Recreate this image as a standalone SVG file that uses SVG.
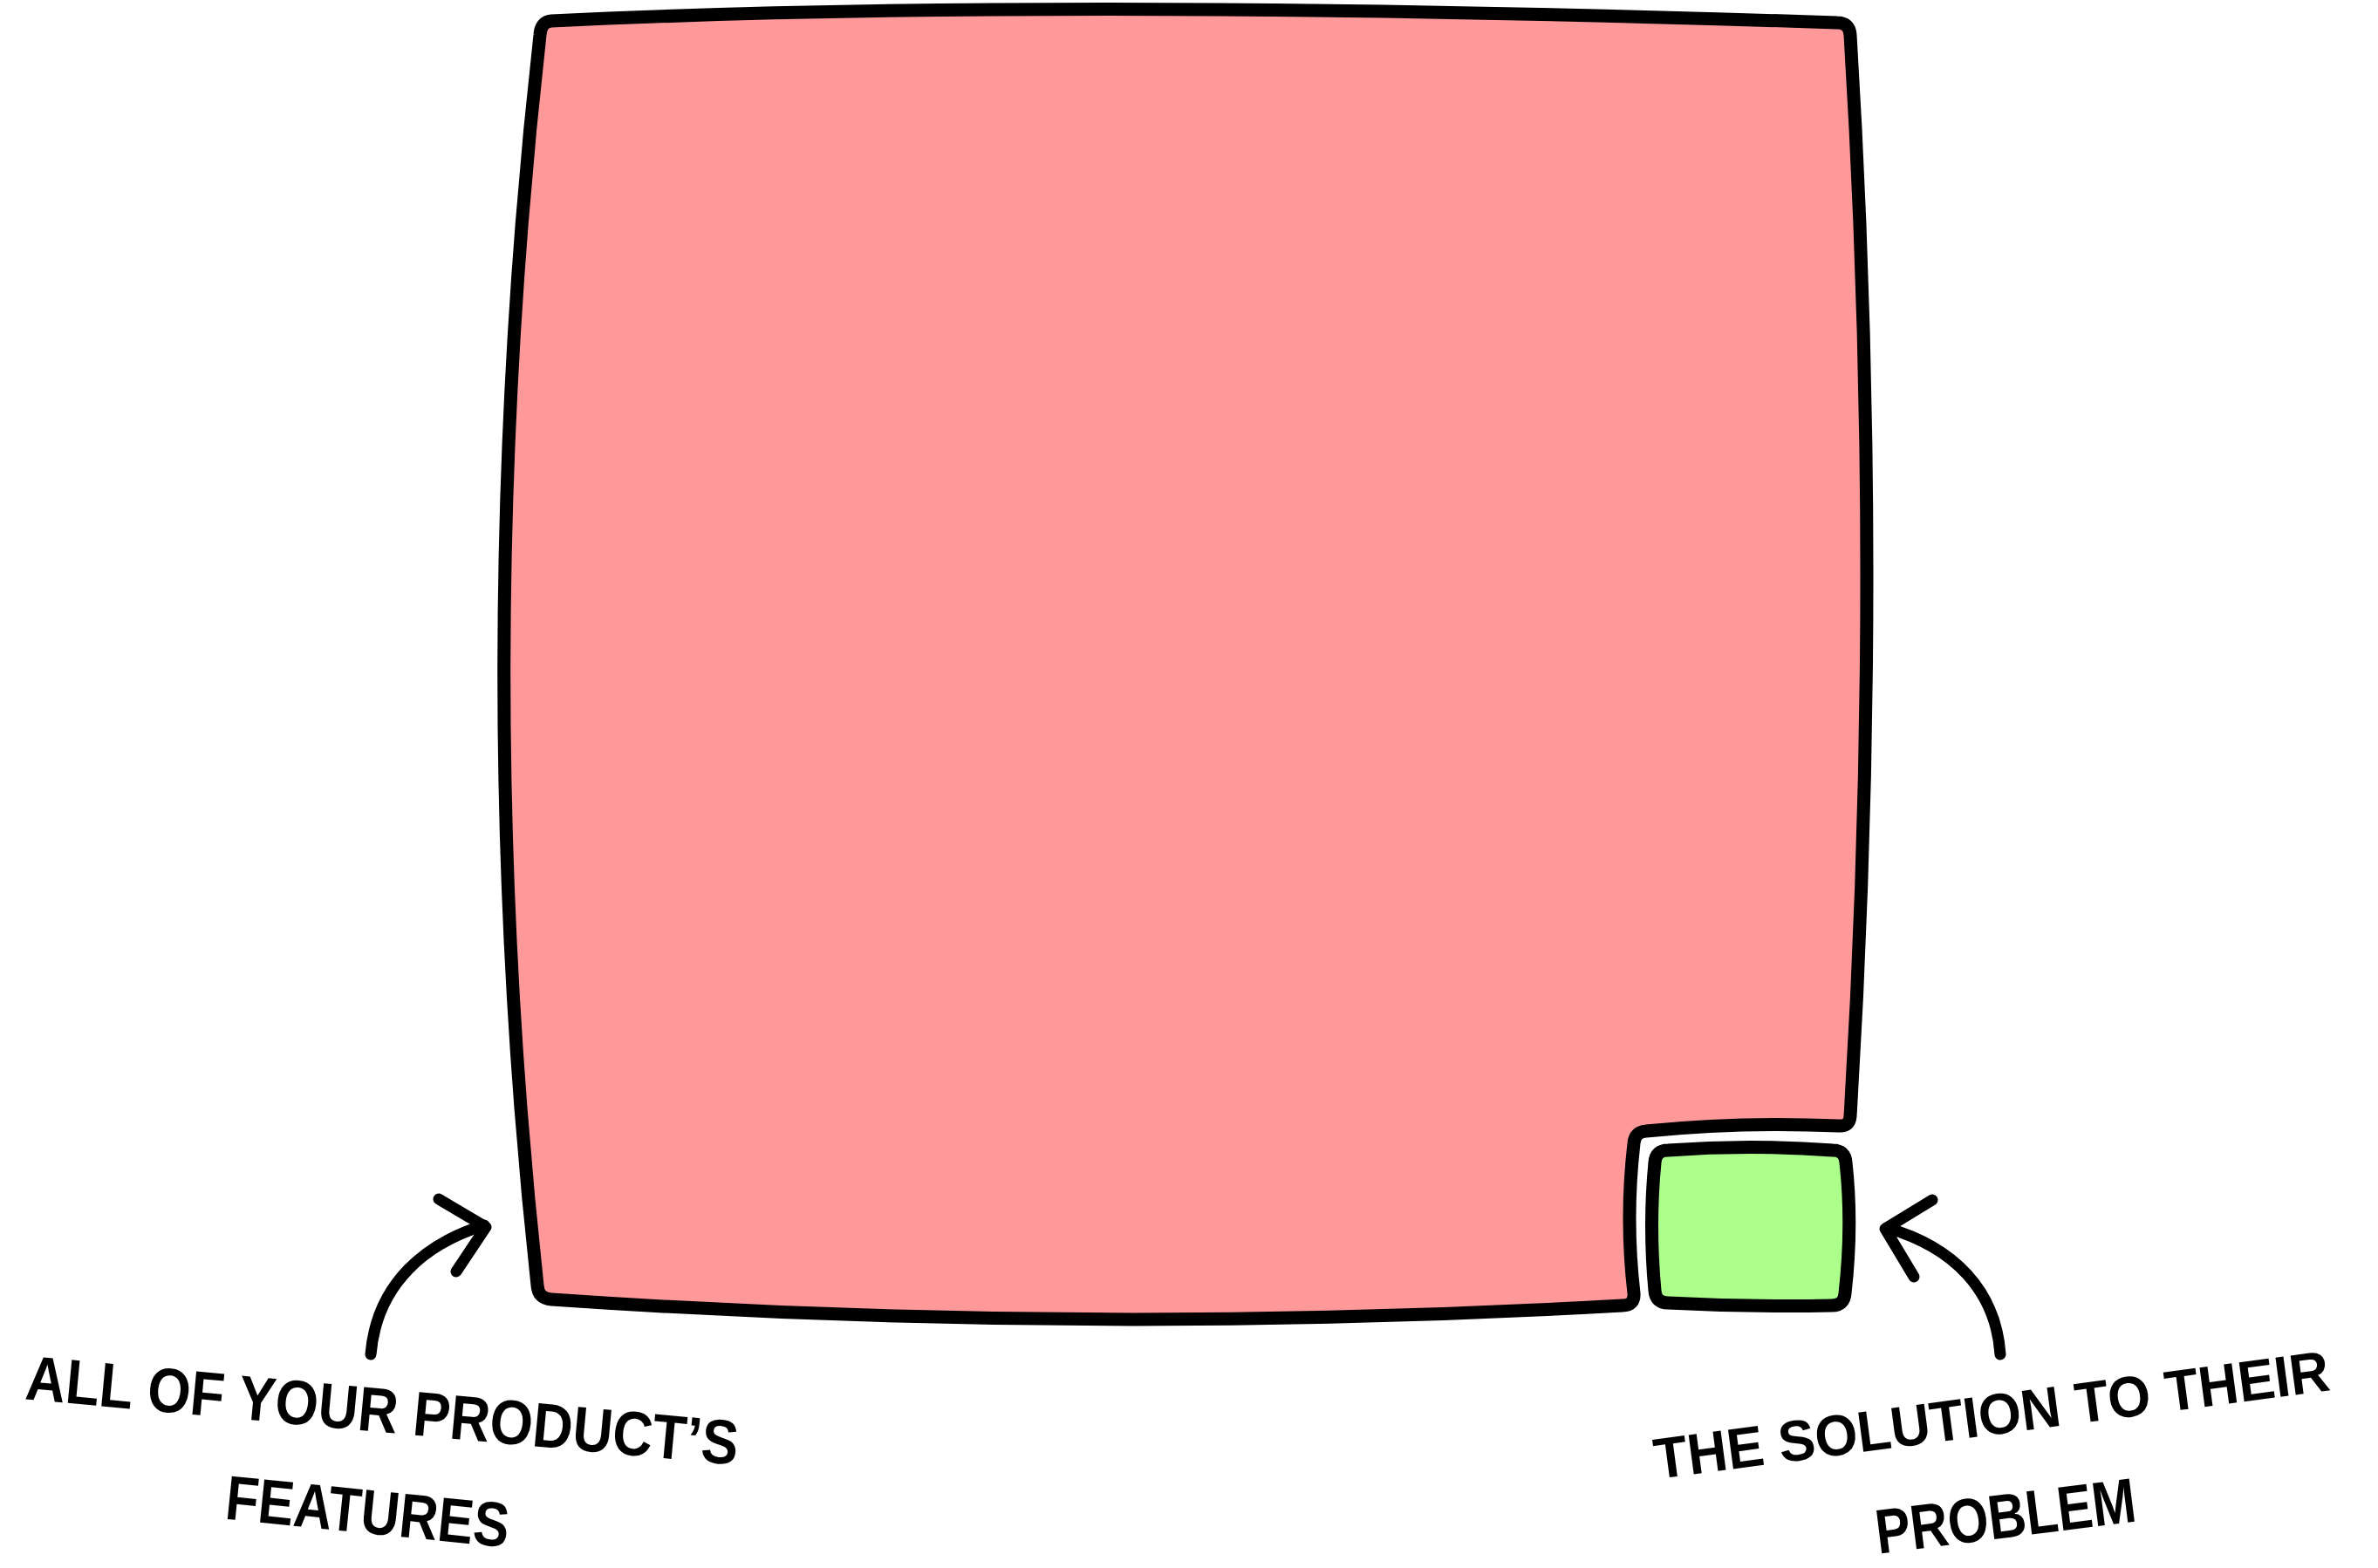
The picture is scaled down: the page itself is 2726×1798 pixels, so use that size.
<svg xmlns="http://www.w3.org/2000/svg" width="2726" height="1798" viewBox="0 0 2726 1798">
<style>
.box{stroke:#000;stroke-width:15;stroke-linejoin:round;stroke-linecap:round}
.red{fill:#ff9999}
.green{fill:#adff8c}
.conn{fill:none;stroke:#000;stroke-width:13;stroke-linecap:round;stroke-linejoin:round}
.lbl{font-family:"Liberation Sans",Arial,sans-serif;font-weight:700;font-size:72px;fill:#000;text-anchor:middle}
</style>
<rect width="2726" height="1798" fill="#fff"/>
<g id="features">
<path class="box red" d="M632,24 Q1217,-4 2106,26 Q2120,26 2121,40 Q2159,660 2121,1280 Q2120,1292 2108,1291 Q1995,1286 1887,1297 Q1874,1298 1873,1311 Q1863,1397 1873,1483 Q1874,1497 1860,1497 Q1240,1532 632,1490 Q617,1489 616,1474 Q538,760 619,40 Q620,25 632,24 Z"/>
</g>
<g id="solution">
<path class="box green" d="M1912,1319 Q2006,1312 2101,1319 Q2115,1319 2116,1333 Q2124,1405 2115,1483 Q2114,1497 2100,1497 Q2005,1499 1912,1494 Q1898,1494 1897,1480 Q1890,1405 1897,1333 Q1898,1319 1912,1319 Z"/>
</g>
<g id="connectors">
<path class="conn" d="M425,1553 C432,1470 490,1425 555,1405"/>
<path class="conn" d="M503,1375 L557,1407 L523,1458"/>
<path class="conn" d="M2293,1553 C2288,1480 2240,1430 2163,1408"/>
<path class="conn" d="M2215,1376 L2161,1409 L2194,1464"/>
</g>
<g id="label-features">
<text class="lbl" transform="translate(436,1642) rotate(5.3)" textLength="820" lengthAdjust="spacingAndGlyphs">ALL OF YOUR PRODUCT’S</text>
<text class="lbl" transform="translate(419,1758) rotate(5.8)" textLength="326" lengthAdjust="spacingAndGlyphs">FEATURES</text>
</g>
<g id="label-solution">
<text class="lbl" style="font-size:66px" transform="translate(2286,1645) rotate(-7.5)" textLength="780" lengthAdjust="spacingAndGlyphs">THE SOLUTION TO THEIR</text>
<text class="lbl" transform="translate(2302,1763) rotate(-7.2)" textLength="300" lengthAdjust="spacingAndGlyphs">PROBLEM</text>
</g>
</svg>
